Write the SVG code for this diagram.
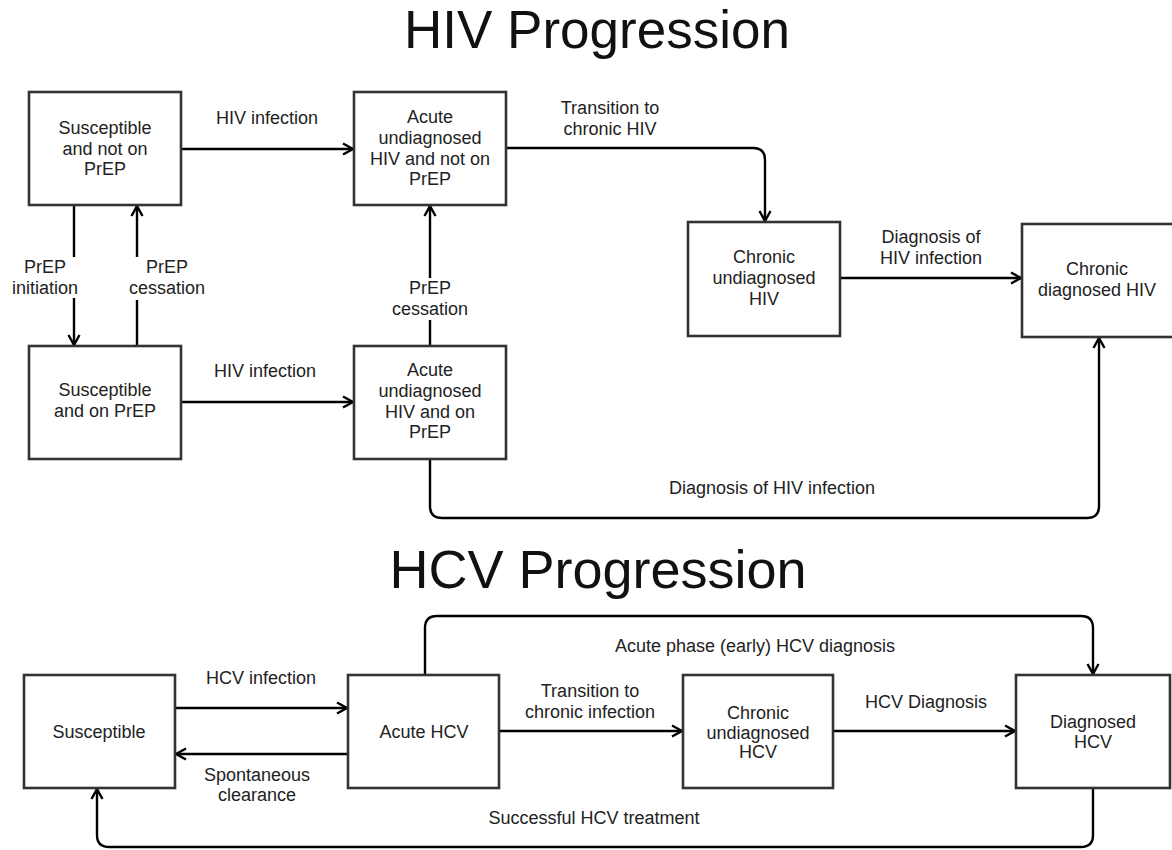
<svg xmlns="http://www.w3.org/2000/svg" width="1172" height="850" viewBox="0 0 1172 850">
  <style>
    .title { font-family: "Liberation Sans", Arial, sans-serif; fill: #111; text-anchor: middle; }
    .box rect { fill: #fff; stroke: #333; stroke-width: 2.6; }
    .box text, .lbl text { font-family: "Liberation Sans", Arial, sans-serif; font-size: 18px; fill: #222; text-anchor: middle; }
    .edge { fill: none; stroke: #000; stroke-width: 2.4; marker-end: url(#open); }
    .bg { fill: #fff; }
  </style>
  <defs>
    <marker id="open" viewBox="-12 -8 14 16" refX="0" refY="0" markerWidth="14" markerHeight="16" markerUnits="userSpaceOnUse" orient="auto">
      <path d="M-10,-5.5 L0,0 L-10,5.5" fill="none" stroke="#000" stroke-width="2.4" stroke-linejoin="miter"/>
    </marker>
  </defs>

  <rect width="1172" height="850" fill="#fff"/>

  <!-- Section titles -->
  <text class="title" x="597" y="48" font-size="53">HIV Progression</text>
  <text class="title" x="598" y="588" font-size="54">HCV Progression</text>

  <!-- Connectors -->
  <g id="connectors">
    <!-- HIV -->
    <path class="edge" d="M181,149 H353"/>
    <path class="edge" d="M181,402 H353"/>
    <path class="edge" d="M74,205 V345"/>
    <path class="edge" d="M137,346 V206"/>
    <path class="edge" d="M430,346 V206"/>
    <path class="edge" d="M506,148 H753 Q765,148 765,160 V221"/>
    <path class="edge" d="M840,278 H1021"/>
    <path class="edge" d="M430,459 V506 Q430,518 442,518 H1087 Q1099,518 1099,506 V338"/>
    <!-- HCV -->
    <path class="edge" d="M175,708 H347"/>
    <path class="edge" d="M348,754 H176"/>
    <path class="edge" d="M499,731 H682"/>
    <path class="edge" d="M833,731 H1015"/>
    <path class="edge" d="M425,675 V628 Q425,616 437,616 H1081 Q1093,616 1093,628 V674"/>
    <path class="edge" d="M1093,788 V835 Q1093,847 1081,847 H109 Q97,847 97,835 V789"/>
  </g>

  <!-- Connector labels -->
  <g class="lbl" id="labels">
    <text x="267" y="124">HIV infection</text>
    <text x="265" y="377">HIV infection</text>
    <rect class="bg" x="12" y="257" width="66" height="41"/>
    <text x="45" y="273">PrEP</text>
    <text x="45" y="294">initiation</text>
    <rect class="bg" x="128" y="257" width="78" height="43"/>
    <text x="167" y="273">PrEP</text>
    <text x="167" y="294">cessation</text>
    <rect class="bg" x="391" y="278" width="78" height="42"/>
    <text x="430" y="294">PrEP</text>
    <text x="430" y="315">cessation</text>
    <text x="610" y="114">Transition to</text>
    <text x="610" y="135">chronic HIV</text>
    <text x="931" y="243">Diagnosis of</text>
    <text x="931" y="264">HIV infection</text>
    <text x="772" y="494">Diagnosis of HIV infection</text>
    <text x="261" y="684">HCV infection</text>
    <text x="257" y="781">Spontaneous</text>
    <text x="257" y="801">clearance</text>
    <text x="590" y="697">Transition to</text>
    <text x="590" y="718">chronic infection</text>
    <text x="926" y="708">HCV Diagnosis</text>
    <text x="755" y="652">Acute phase (early) HCV diagnosis</text>
    <text x="594" y="824">Successful HCV treatment</text>
  </g>

  <!-- HIV nodes -->
  <g class="box" id="hiv-susceptible-no-prep">
    <rect x="29" y="92" width="152" height="113"/>
    <text x="105" y="134">Susceptible</text>
    <text x="105" y="155">and not on</text>
    <text x="105" y="175">PrEP</text>
  </g>
  <g class="box" id="hiv-susceptible-prep">
    <rect x="29" y="346" width="152" height="113"/>
    <text x="105" y="396">Susceptible</text>
    <text x="105" y="417">and on PrEP</text>
  </g>
  <g class="box" id="hiv-acute-no-prep">
    <rect x="354" y="92" width="152" height="113"/>
    <text x="430" y="123">Acute</text>
    <text x="430" y="144">undiagnosed</text>
    <text x="430" y="165">HIV and not on</text>
    <text x="430" y="185">PrEP</text>
  </g>
  <g class="box" id="hiv-acute-prep">
    <rect x="354" y="346" width="152" height="113"/>
    <text x="430" y="376">Acute</text>
    <text x="430" y="397">undiagnosed</text>
    <text x="430" y="418">HIV and on</text>
    <text x="430" y="438">PrEP</text>
  </g>
  <g class="box" id="hiv-chronic-undiagnosed">
    <rect x="688" y="222" width="152" height="114"/>
    <text x="764" y="263">Chronic</text>
    <text x="764" y="284">undiagnosed</text>
    <text x="764" y="305">HIV</text>
  </g>
  <g class="box" id="hiv-chronic-diagnosed">
    <rect x="1022" y="224" width="152" height="113"/>
    <text x="1097" y="275">Chronic</text>
    <text x="1097" y="296">diagnosed HIV</text>
  </g>

  <!-- HCV nodes -->
  <g class="box" id="hcv-susceptible">
    <rect x="24" y="675" width="151" height="113"/>
    <text x="99" y="738">Susceptible</text>
  </g>
  <g class="box" id="hcv-acute">
    <rect x="348" y="675" width="151" height="113"/>
    <text x="424" y="738">Acute HCV</text>
  </g>
  <g class="box" id="hcv-chronic-undiagnosed">
    <rect x="683" y="675" width="150" height="113"/>
    <text x="758" y="719">Chronic</text>
    <text x="758" y="739">undiagnosed</text>
    <text x="758" y="758">HCV</text>
  </g>
  <g class="box" id="hcv-diagnosed">
    <rect x="1016" y="675" width="154" height="113"/>
    <text x="1093" y="728">Diagnosed</text>
    <text x="1093" y="748">HCV</text>
  </g>
</svg>
